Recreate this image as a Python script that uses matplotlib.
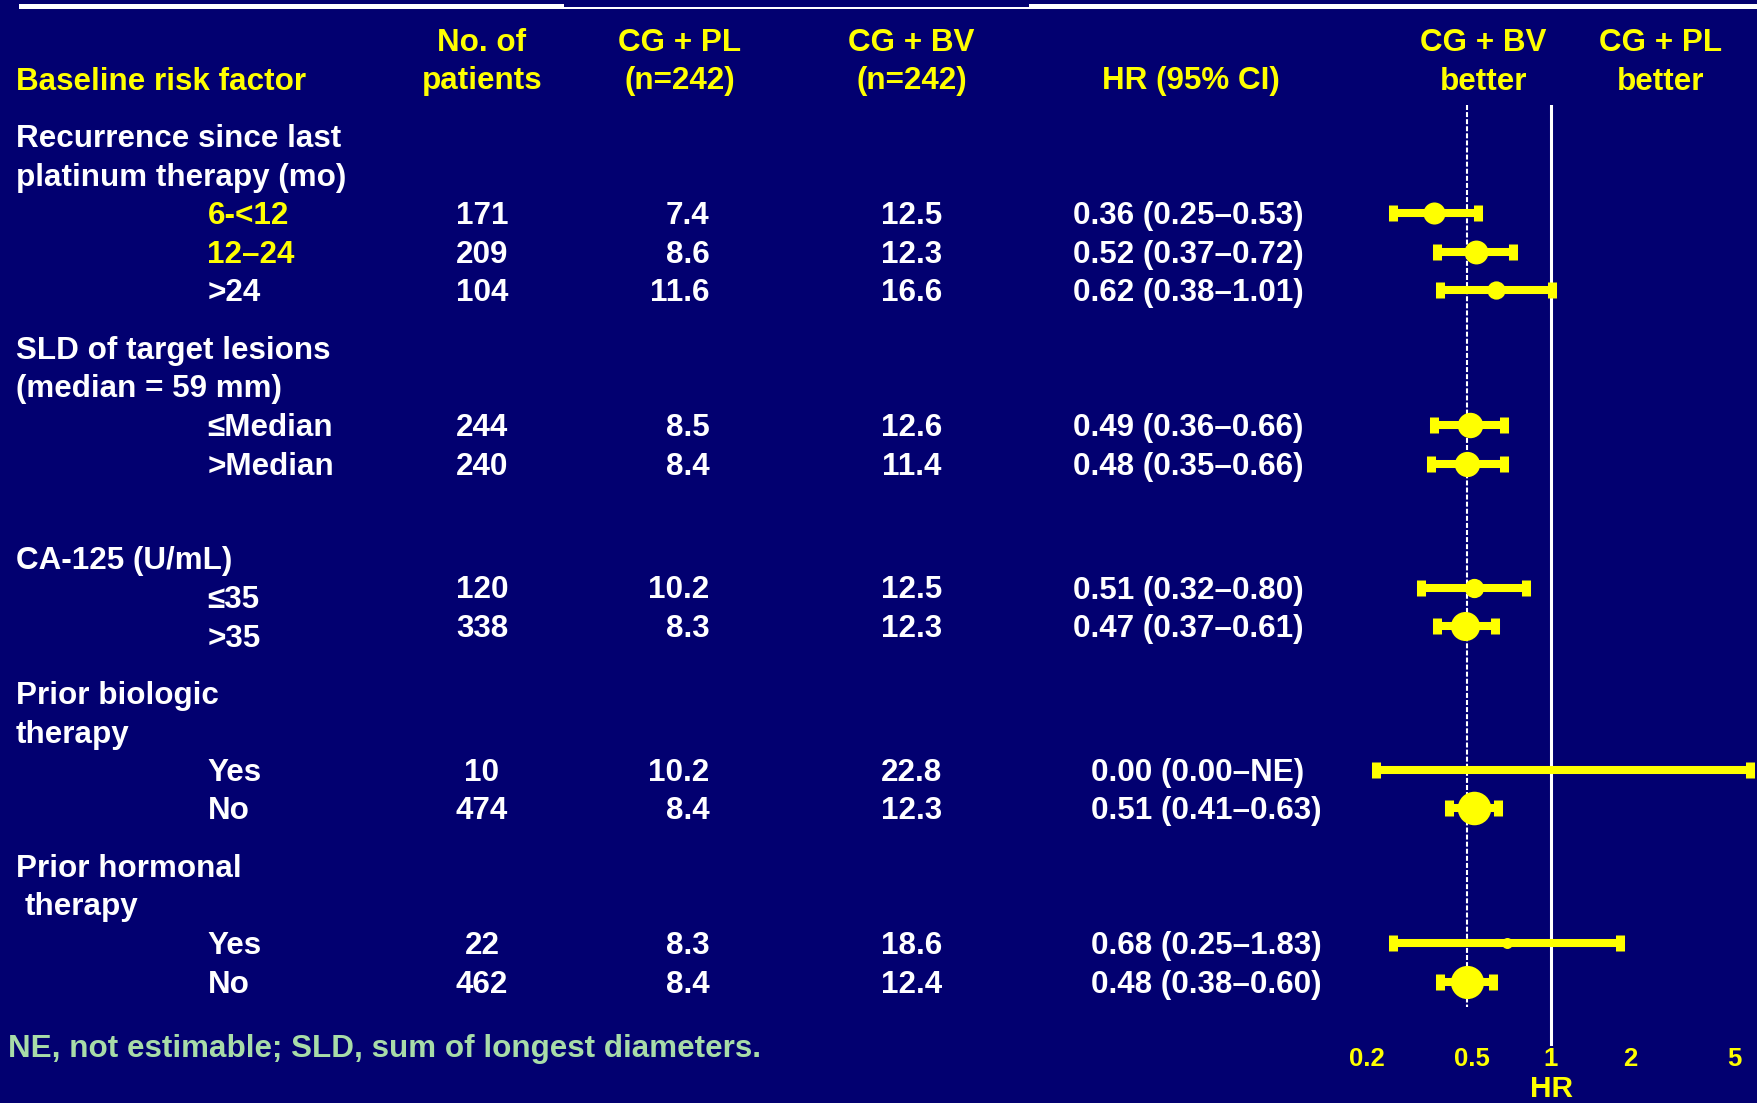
import numpy as np
import matplotlib
matplotlib.use("Agg")
import matplotlib.pyplot as plt
from matplotlib.patches import Rectangle

plt.rcParams['font.family'] = ['Liberation Sans', 'DejaVu Sans']
plt.rcParams['font.weight'] = 'bold'

NAVY = '#020070'
YELLOW = '#ffff00'
WHITE = '#ffffff'
GREEN = '#a8dca8'

# subgroup data
subgroups = ["6-<12", "12–24", ">24", "≤Median", ">Median", "≤35", ">35",
             "Yes", "No", "Yes", "No"]
n_patients = [171, 209, 104, 244, 240, 120, 338, 10, 474, 22, 462]
pfs_pl = [7.4, 8.6, 11.6, 8.5, 8.4, 10.2, 8.3, 10.2, 8.4, 8.3, 8.4]
pfs_bv = [12.5, 12.3, 16.6, 12.6, 11.4, 12.5, 12.3, 22.8, 12.3, 18.6, 12.4]
hr = [0.36, 0.52, 0.62, 0.49, 0.48, 0.51, 0.47, 0.00, 0.51, 0.68, 0.48]
ci_lo = [0.25, 0.37, 0.38, 0.36, 0.35, 0.32, 0.37, 0.00, 0.41, 0.25, 0.38]
ci_hi = [0.53, 0.72, 1.01, 0.66, 0.66, 0.80, 0.61, np.nan, 0.63, 1.83, 0.60]
overall_hr = 0.48

hr_ticks = [0.2, 0.5, 1, 2, 5]
tick_labels = ["0.2", "0.5", "1", "2", "5"]

# layout (pixel rows / columns)
W, H = 1758, 1103
row_y = [213, 252.3, 290.4, 425, 464.2, 587.5, 625.6, 770.3, 808.4, 943, 982.2]
label_y = [213, 252.3, 290.4, 425, 464.2, 596.5, 635.7, 770.3, 808.4, 943, 982.2]
label_col = [YELLOW, YELLOW] + [WHITE] * 9
hr_text_x = [1073] * 7 + [1091] * 4

group_titles = [
    ("Recurrence since last", 15.7, 135.7),
    ("platinum therapy (mo)", 15.7, 174.9),
    ("SLD of target lesions", 15.7, 347.6),
    ("(median = 59 mm)", 15.7, 385.7),
    ("CA-125 (U/mL)", 15.7, 558.4),
    ("Prior biologic", 15.7, 692.9),
    ("therapy", 15.7, 732.1),
    ("Prior hormonal", 15.7, 865.6),
    ("therapy", 24.7, 903.7),
]

FS = 22.6
CAP = 11.0  # half cap height in px at FS

fig = plt.figure(figsize=(W / 100, H / 100), dpi=100, facecolor=NAVY)

bg = fig.add_axes([0, 0, 1, 1])
bg.set_xlim(0, W)
bg.set_ylim(H, 0)
bg.axis('off')
bg.set_facecolor(NAVY)


def put(x, y, s, ha='left', color=WHITE, size=FS):
    bg.text(x, y + CAP * size / FS, s, ha=ha, va='baseline', color=color,
            fontsize=size, fontweight='bold')


# white rule along the top
bg.add_patch(Rectangle((19, 4), 545, 5.3, color=WHITE, lw=0))
bg.add_patch(Rectangle((564, 6.7), 465, 2.6, color=WHITE, lw=0))
bg.add_patch(Rectangle((1029, 4), 729, 5.3, color=WHITE, lw=0))

# column headers
put(15.7, 78.5, "Baseline risk factor", color=YELLOW)
put(482, 40.4, "No. of", ha='center', color=YELLOW)
put(482, 78.5, "patients", ha='center', color=YELLOW)
put(679.5, 40.4, "CG + PL", ha='center', color=YELLOW)
put(679.5, 78.5, "(n=242)", ha='center', color=YELLOW)
put(911.5, 40.4, "CG + BV", ha='center', color=YELLOW)
put(911.5, 78.5, "(n=242)", ha='center', color=YELLOW)
put(1190.7, 78.5, "HR (95% CI)", ha='center', color=YELLOW)
put(1483.4, 40.4, "CG + BV", ha='center', color=YELLOW)
put(1483.4, 78.5, "better", ha='center', color=YELLOW)
put(1660.5, 40.4, "CG + PL", ha='center', color=YELLOW)
put(1660.5, 78.5, "better", ha='center', color=YELLOW)

for txt, x, y in group_titles:
    put(x, y, txt)

for i in range(len(subgroups)):
    put(207.4, label_y[i], subgroups[i], color=label_col[i])
    put(482, row_y[i], str(n_patients[i]), ha='center')
    put(709.7, row_y[i], f"{pfs_pl[i]:.1f}", ha='right')
    put(911.5, row_y[i], f"{pfs_bv[i]:.1f}", ha='center')
    hi_txt = "NE" if np.isnan(ci_hi[i]) else f"{ci_hi[i]:.2f}"
    put(hr_text_x[i], row_y[i], f"{hr[i]:.2f} ({ci_lo[i]:.2f}–{hi_txt})")

put(7.8, 1046, "NE, not estimable; SLD, sum of longest diameters.", color=GREEN)

# forest plot on a log HR scale
x_min, x_max = 0.2, 5.8
px_per_dec = 263.0
x_one = 1551.0
left_px = x_one + px_per_dec * np.log10(x_min)
right_px = x_one + px_per_dec * np.log10(x_max)
top_px, bot_px = 105, 1046

ax = fig.add_axes([left_px / W, 1 - bot_px / H,
                   (right_px - left_px) / W, (bot_px - top_px) / H])
ax.set_xscale('log')
ax.set_xlim(x_min, x_max)
ax.set_ylim(bot_px, top_px)
ax.patch.set_alpha(0)
for sp in ax.spines.values():
    sp.set_visible(False)
ax.set_xticks([])
ax.set_yticks([])
ax.minorticks_off()

ax.axvline(1, color=WHITE, lw=2.2, zorder=1)
ax.vlines(overall_hr, top_px, 1007, colors=WHITE, lw=1.5,
          linestyles=(0, (2.4, 1.0)), zorder=1)

draw_lo, draw_hi = 0.216, 5.7  # where an open-ended interval is cut off
for i in range(len(hr)):
    lo = ci_lo[i] if ci_lo[i] > 0 else draw_lo
    hi = draw_hi if np.isnan(ci_hi[i]) else ci_hi[i]
    y = row_y[i]
    ax.plot([lo, hi], [y, y], color=YELLOW, lw=5.8, solid_capstyle='butt',
            zorder=3, clip_on=False)
    ax.plot([lo, hi], [y, y], ls='none', marker='|', ms=12.2, mew=6.5,
            color=YELLOW, zorder=3, clip_on=False)
    if hr[i] > 0:
        # point size grows with the number of patients
        dot = 0.72 * (4.8 + 1.32 * np.sqrt(n_patients[i]))
        ax.plot(hr[i], y, 'o', ms=dot, color=YELLOW, mec='none', zorder=4)

for t, lab in zip(hr_ticks, tick_labels):
    ax.text(t, 1057 + 9, lab, ha='center', va='baseline', color=YELLOW,
            fontsize=18.5, fontweight='bold', clip_on=False)
ax.text(1, 1097, "HR", ha='center', va='baseline', color=YELLOW,
        fontsize=21.5, fontweight='bold', clip_on=False)

fig.savefig("out.png", dpi=100, facecolor=NAVY)
